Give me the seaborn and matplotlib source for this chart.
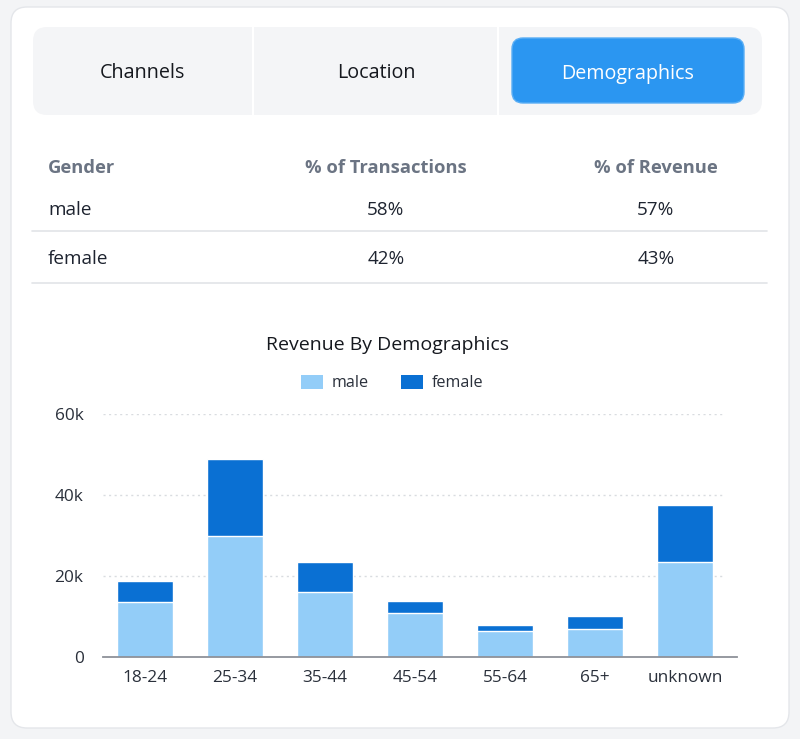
import matplotlib
matplotlib.use('Agg')
import matplotlib.pyplot as plt
import seaborn as sns
import pandas as pd
from matplotlib.patches import FancyBboxPatch, Patch
from matplotlib.ticker import FuncFormatter

# data
tabs = ['Channels', 'Location', 'Demographics']
active_tab = 'Demographics'
table_cols = ['Gender', '% of Transactions', '% of Revenue']
genders = ['male', 'female']
pct_transactions = ['58%', '42%']
pct_revenue = ['57%', '43%']

age_groups = ['18-24', '25-34', '35-44', '45-54', '55-64', '65+', 'unknown']
male_rev = [13600, 30000, 16000, 10800, 6500, 7000, 23400]
female_rev = [5200, 19000, 7400, 3100, 1400, 3200, 14200]
y_ticks = [0, 20000, 40000, 60000]

MALE_C = '#93cdf8'
FEMALE_C = '#0a70d3'
BLUE_TAB = '#2b96f1'
HEAD_C = '#6b7483'
TEXT_C = '#1e2430'

sns.set_theme(style='white')
plt.rcParams['font.family'] = ['Open Sans', 'DejaVu Sans']

W, H = 800, 739
fig = plt.figure(figsize=(W / 100, H / 100), dpi=100, facecolor='#f3f4f6')

# background layer in pixel coords
bg = fig.add_axes([0, 0, 1, 1])
bg.set_xlim(0, W)
bg.set_ylim(H, 0)
bg.axis('off')

bg.add_patch(FancyBboxPatch((11, 7), 778, 721, boxstyle='round,pad=0,rounding_size=16',
                            fc='white', ec='#e4e6ea', lw=1))
bg.add_patch(FancyBboxPatch((33, 27), 729, 88, boxstyle='round,pad=0,rounding_size=14',
                            fc='#f4f5f7', ec='none'))
for xd in [253, 498]:
    bg.plot([xd, xd], [27, 115], color='white', lw=1.5)
bg.add_patch(FancyBboxPatch((512, 38), 232, 65, boxstyle='round,pad=0,rounding_size=11',
                            fc=BLUE_TAB, ec='#5aaef5', lw=1))

tab_x = [142, 376, 628]
for name, tx in zip(tabs, tab_x):
    bg.text(tx, 73.5, name, ha='center', va='center', fontsize=14.2,
            color='white' if name == active_tab else '#15181e')

# table
col_x = [48, 386, 656]
col_ha = ['left', 'center', 'center']
for name, cx, ha in zip(table_cols, col_x, col_ha):
    bg.text(cx, 168, name, ha=ha, va='center', fontsize=13.2, fontweight='bold', color=HEAD_C)
row_y = [210, 259]
for g, t, r, ry in zip(genders, pct_transactions, pct_revenue, row_y):
    bg.text(col_x[0], ry, g, ha='left', va='center', fontsize=13.6, color=TEXT_C)
    bg.text(col_x[1], ry, t, ha='center', va='center', fontsize=13.6, color=TEXT_C)
    bg.text(col_x[2], ry, r, ha='center', va='center', fontsize=13.6, color=TEXT_C)
for ly in [231, 283]:
    bg.plot([32, 767], [ly, ly], color='#e1e4e8', lw=1.2)

# chart
df = pd.DataFrame({'age': age_groups, 'male': male_rev, 'female': female_rev})
df['total'] = df['male'] + df['female']

ax = fig.add_axes([103 / W, 1 - 657 / H, 634 / W, 243 / H])
ax.set_facecolor('none')
sns.barplot(data=df, x='age', y='total', color=FEMALE_C, saturation=1, width=0.63,
            edgecolor='white', linewidth=1, ax=ax)
sns.barplot(data=df, x='age', y='male', color=MALE_C, saturation=1, width=0.63,
            edgecolor='white', linewidth=1, ax=ax)

ax.set_xlim(-0.467, 6.578)
ax.set_ylim(0, 60000)
ax.set_yticks(y_ticks)
ax.yaxis.set_major_formatter(FuncFormatter(lambda v, p: '0' if v == 0 else f'{int(v / 1000)}k'))
for yv in y_ticks[1:]:
    ax.axhline(yv, xmin=0, xmax=0.981, color='#d9dce0', lw=1, ls=(0, (1.5, 2.5)), zorder=0)
for s in ['top', 'right', 'left']:
    ax.spines[s].set_visible(False)
ax.spines['bottom'].set_color('#8d9199')
ax.spines['bottom'].set_linewidth(1.3)
ax.tick_params(axis='both', length=0, labelsize=12.4, labelcolor='#2a303b')
ax.tick_params(axis='y', pad=14)
ax.tick_params(axis='x', pad=9.5)
ax.set_xlabel('')
ax.set_ylabel('')

fig.text(388 / W, 1 - 345 / H, 'Revenue By Demographics', ha='center', va='center',
         fontsize=14, color='#15181e')
handles = [Patch(facecolor=MALE_C, edgecolor='none', label='male'),
           Patch(facecolor=FEMALE_C, edgecolor='none', label='female')]
fig.legend(handles=handles, loc='center', bbox_to_anchor=(392 / W, 1 - 383 / H), ncol=2,
           frameon=False, fontsize=11.6, labelcolor='#2a303b', handlelength=1.4,
           handleheight=1.0, handletextpad=0.5, columnspacing=2.0)

fig.savefig('out.png', dpi=100, facecolor=fig.get_facecolor())
